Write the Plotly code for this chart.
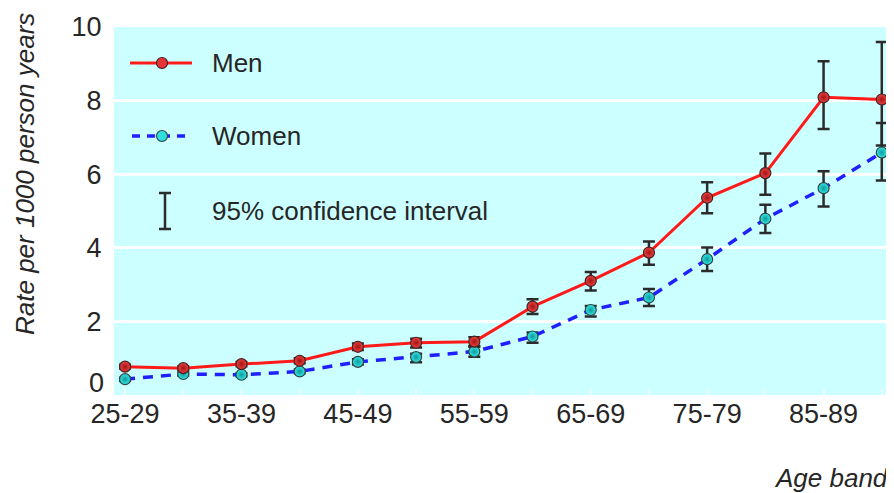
import plotly.graph_objects as go

categories = ["25-29", "30-34", "35-39", "40-44", "45-49", "50-54", "55-59",
              "60-64", "65-69", "70-74", "75-79", "80-84", "85-89", "90-94"]
tick_text = ["25-29", "", "35-39", "", "45-49", "", "55-59",
             "", "65-69", "", "75-79", "", "85-89", ""]

men = [0.77, 0.73, 0.84, 0.93, 1.31, 1.42, 1.45, 2.40, 3.10, 3.87, 5.36, 6.03, 8.09, 8.03]
men_hi = [0.82, 0.78, 0.90, 1.00, 1.40, 1.53, 1.57, 2.60, 3.34, 4.17, 5.78, 6.56, 9.07, 9.59]
men_lo = [0.72, 0.68, 0.78, 0.86, 1.22, 1.29, 1.33, 2.20, 2.84, 3.54, 4.94, 5.44, 7.23, 6.78]

women = [0.43, 0.57, 0.55, 0.64, 0.90, 1.03, 1.18, 1.59, 2.31, 2.65, 3.69, 4.79, 5.62, 6.59]
women_hi = [0.47, 0.61, 0.59, 0.69, 0.97, 1.12, 1.31, 1.70, 2.42, 2.88, 4.01, 5.17, 6.08, 7.39]
women_lo = [0.39, 0.53, 0.51, 0.59, 0.83, 0.89, 1.04, 1.42, 2.13, 2.42, 3.37, 4.40, 5.12, 5.83]

y_tickvals = [2, 4, 6, 8, 10]
y_ticktext = ["2", "4", "6", "8", "10"]

FONT = "Liberation Sans, Arial, sans-serif"
TXT = "#262626"
BAR = "#2b2b2b"
FS = 27

def err(vals, hi, lo):
    return dict(type="data", symmetric=False,
                array=[h - v for h, v in zip(hi, vals)],
                arrayminus=[v - l for v, l in zip(vals, lo)],
                color=BAR, thickness=2.5, width=6)

fig = go.Figure()
fig.add_trace(go.Scatter(
    x=categories, y=women, mode="lines+markers", name="Women",
    line=dict(color="#1f1fff", width=3.5, dash="10px,8px"),
    marker=dict(size=11, color="#30e8e8", line=dict(color="#334444", width=1.2),
                gradient=dict(type="radial", color="#119999")),
    error_y=err(women, women_hi, women_lo), showlegend=False))
fig.add_trace(go.Scatter(
    x=categories, y=men, mode="lines+markers", name="Men",
    line=dict(color="#ff1a1a", width=3),
    marker=dict(size=11, color="#f04040", line=dict(color="#442222", width=1.2),
                gradient=dict(type="radial", color="#a01515")),
    error_y=err(men, men_hi, men_lo), showlegend=False))

# plot area on screen (px): x 114..894, y 27..395 (page has an 8px body margin)
def fx(px):
    return (px - 114) / 780.0
def fy(py):
    return (395 - py) / 368.0

shapes = []
annotations = []
# Legend: Men
shapes.append(dict(type="line", xref="paper", yref="paper", x0=fx(130), x1=fx(192),
                   y0=fy(63), y1=fy(63), line=dict(color="#ff1a1a", width=3)))
shapes.append(dict(type="circle", xref="paper", yref="paper", x0=fx(156.5), x1=fx(167.5),
                   y0=fy(68.5), y1=fy(57.5), fillcolor="#e83434",
                   line=dict(color="#442222", width=1.2)))
# Legend: Women
shapes.append(dict(type="line", xref="paper", yref="paper", x0=fx(132), x1=fx(192),
                   y0=fy(136), y1=fy(136), line=dict(color="#1f1fff", width=3.5, dash="8px,7px")))
shapes.append(dict(type="circle", xref="paper", yref="paper", x0=fx(156.5), x1=fx(167.5),
                   y0=fy(141.5), y1=fy(130.5), fillcolor="#30dede",
                   line=dict(color="#334444", width=1.2)))
# Legend: CI symbol
shapes.append(dict(type="line", xref="paper", yref="paper", x0=fx(165), x1=fx(165),
                   y0=fy(193), y1=fy(229), line=dict(color=BAR, width=2.5)))
for yy in (193, 229):
    shapes.append(dict(type="line", xref="paper", yref="paper", x0=fx(159), x1=fx(171),
                       y0=fy(yy), y1=fy(yy), line=dict(color=BAR, width=2.5)))

for label, py in (("Men", 63), ("Women", 136), ("95% confidence interval", 211)):
    annotations.append(dict(text=label, xref="paper", yref="paper", x=fx(210), y=fy(py),
                            xanchor="left", yanchor="middle", showarrow=False,
                            font=dict(family=FONT, size=26, color=TXT)))

annotations.append(dict(text="<i>Rate per 1000 person years</i>", xref="paper", yref="paper",
                        x=fx(25), y=fy(174), xanchor="center", yanchor="middle",
                        textangle=-90, showarrow=False,
                        font=dict(family=FONT, size=26, color=TXT)))
annotations.append(dict(text="<i>Age band</i>", xref="paper", yref="paper",
                        x=fx(891), y=fy(478), xanchor="right", yanchor="middle",
                        showarrow=False, font=dict(family=FONT, size=26, color=TXT)))
annotations.append(dict(text="0", xref="paper", yref="y", x=fx(106), y=0, yshift=12,
                        xanchor="right", yanchor="middle", showarrow=False,
                        font=dict(family=FONT, size=FS, color=TXT)))

fig.update_layout(
    width=886, height=485,
    margin=dict(l=106, r=0, t=19, b=98, autoexpand=False),
    paper_bgcolor="white", plot_bgcolor="#ccffff",
    font=dict(family=FONT, size=FS, color=TXT),
    shapes=shapes, annotations=annotations,
    xaxis=dict(type="category", range=[-0.19, 13.21], tickmode="array",
               tickvals=categories, ticktext=tick_text, showgrid=False,
               ticks="inside", ticklen=6, tickwidth=2, tickcolor="#eaffff",
               showline=False, zeroline=False, tickfont=dict(size=FS)),
    yaxis=dict(range=[0, 10], tickmode="array", tickvals=y_tickvals, ticktext=y_ticktext,
               showgrid=True, gridcolor="white", gridwidth=3, zeroline=False,
               showline=False, ticks="outside", ticklen=6, tickcolor="rgba(0,0,0,0)",
               tickfont=dict(size=FS)),
)

fig.write_html("out.html")
